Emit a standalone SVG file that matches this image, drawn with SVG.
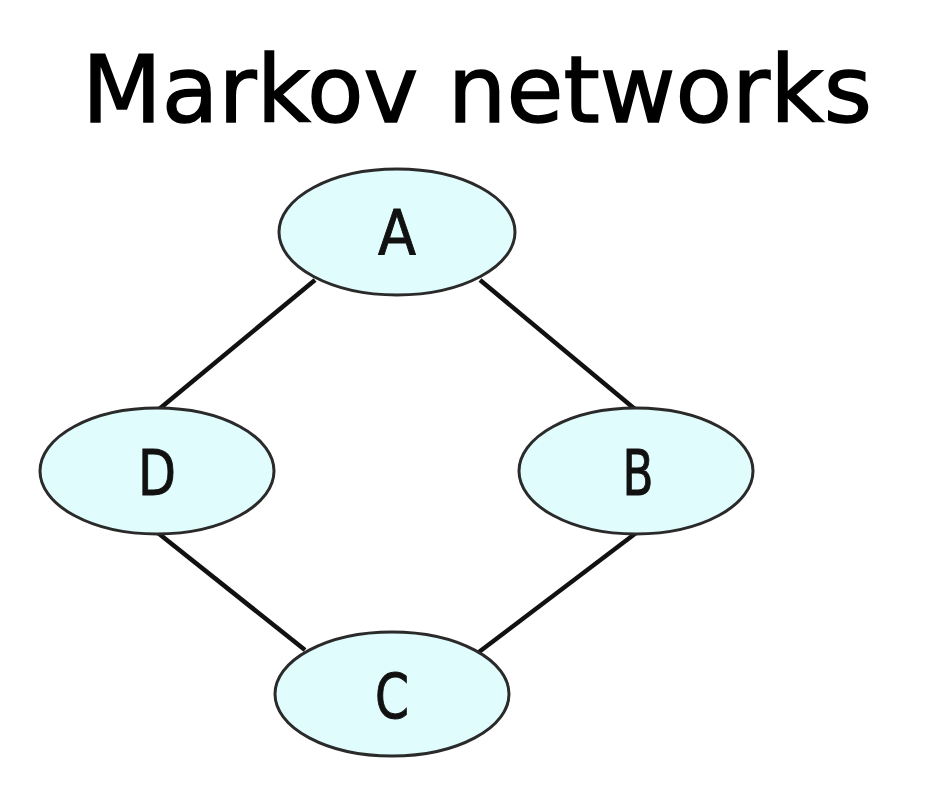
<svg xmlns="http://www.w3.org/2000/svg" width="930" height="812" viewBox="0 0 930 812">
<style>
.node ellipse{fill:#e0fcfc;stroke:#2a2a2a;stroke-width:3}
.node text{font-family:"DejaVu Sans","Liberation Sans",sans-serif;font-size:62px;fill:#111;text-anchor:middle;stroke:#111;stroke-width:1}
.edges line{stroke:#111;stroke-width:4.5}
.title{font-family:"DejaVu Sans","Liberation Sans",sans-serif;font-size:92px;fill:#000;stroke:#000;stroke-width:1.5}
</style>
<rect width="930" height="812" fill="#fff"/>
<text class="title" x="82" y="122" textLength="790" lengthAdjust="spacingAndGlyphs">Markov networks</text>
<g class="edges">
<line x1="315" y1="280" x2="158" y2="410"/>
<line x1="480" y1="280" x2="636" y2="410"/>
<line x1="158" y1="533" x2="305" y2="650"/>
<line x1="636" y1="533" x2="475" y2="655"/>
</g>
<g id="A" class="node"><ellipse cx="397" cy="232" rx="118" ry="63"/><text x="397" y="255" textLength="38" lengthAdjust="spacingAndGlyphs">A</text></g>
<g id="D" class="node"><ellipse cx="157" cy="471" rx="117" ry="63"/><text x="157" y="495" textLength="38" lengthAdjust="spacingAndGlyphs">D</text></g>
<g id="B" class="node"><ellipse cx="636" cy="471" rx="117" ry="63"/><text x="638" y="495" textLength="31" lengthAdjust="spacingAndGlyphs">B</text></g>
<g id="C" class="node"><ellipse cx="392" cy="694" rx="117" ry="62"/><text x="392" y="718" textLength="34" lengthAdjust="spacingAndGlyphs">C</text></g>
</svg>
